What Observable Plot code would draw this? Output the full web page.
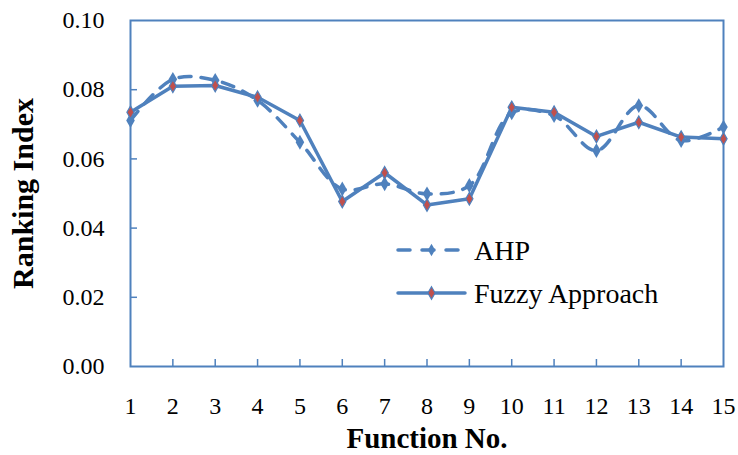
<!DOCTYPE html>
<html><head><meta charset="utf-8">
<script src="https://cdn.jsdelivr.net/npm/d3@7"></script>
<script src="https://cdn.jsdelivr.net/npm/@observablehq/plot@0.6"></script>
<style>
body{margin:0;background:#fff;}
#chart{position:relative;width:738px;height:455px;}
#chart svg{font-family:"Liberation Serif","Times New Roman",serif;}
g[aria-label="x-axis tick label"], g[aria-label="y-axis tick label"]{font-size:24px;}
g[aria-label="x-axis label"]{font-size:29px;font-weight:bold;}
g[aria-label="y-axis label"]{font-size:30px;font-weight:bold;}
</style></head><body><div id="chart"></div>
<script>
const functionNo = [1,2,3,4,5,6,7,8,9,10,11,12,13,14,15];
const ahp   = [0.0711,0.0830,0.0827,0.0769,0.0648,0.0513,0.0528,0.0499,0.0523,0.0733,0.0725,0.0624,0.0754,0.0653,0.0692];
const fuzzy = [0.0735,0.0810,0.0812,0.0778,0.0711,0.0477,0.0560,0.0467,0.0485,0.0749,0.0735,0.0665,0.0706,0.0663,0.0658];
const xTicks = [1,2,3,4,5,6,7,8,9,10,11,12,13,14,15];
const yTicks = [0,0.02,0.04,0.06,0.08,0.10];
const seriesNames = ["AHP","Fuzzy Approach"];

const blue = "#4F81BD", red = "#C0504D";
const W = 738, H = 455, mL = 130, mR = 15, mT = 20, mB = 89;
const innerW = W - mL - mR, innerH = H - mT - mB;

const ahpRows = functionNo.map((f, i) => ({f, v: ahp[i]}));
const fuzzyRows = functionNo.map((f, i) => ({f, v: fuzzy[i]}));

const plot = Plot.plot({
  width: W, height: H,
  marginLeft: mL, marginRight: mR, marginTop: mT, marginBottom: mB,
  style: {background: "#fff", color: "#000", overflow: "visible"},
  x: {domain: [1, 15]},
  y: {domain: [0, 0.1]},
  marks: [
    Plot.tickX(xTicks.slice(1, -1), {x: d => d, stroke: blue, strokeWidth: 1.5, insetTop: innerH - 7}),
    Plot.tickY(yTicks.slice(1, -1), {y: d => d, stroke: blue, strokeWidth: 1.5, insetRight: innerW - 7}),
    Plot.axisX(xTicks, {tickSize: 0, tickPadding: 30, label: "Function No.", labelAnchor: "center", labelOffset: 81, labelArrow: "none"}),
    Plot.axisY(yTicks, {tickSize: 0, tickPadding: 26, tickFormat: d3.format(".2f"), label: "Ranking Index", labelAnchor: "center", labelOffset: 119, labelArrow: "none"}),
    Plot.frame({stroke: blue, strokeWidth: 2}),
    Plot.line(ahpRows, {x: "f", y: "v", stroke: blue, strokeWidth: 3.5, strokeDasharray: "12,10", strokeLinecap: "round", curve: "catmull-rom"}),
    Plot.dot(ahpRows, {x: "f", y: "v", symbol: "diamond", r: 4.5, fill: blue}),
    Plot.line(fuzzyRows, {x: "f", y: "v", stroke: blue, strokeWidth: 3.5}),
    Plot.dot(fuzzyRows, {x: "f", y: "v", symbol: "diamond", r: 3.8, fill: red, stroke: blue, strokeWidth: 1.2})
  ]
});
document.getElementById("chart").appendChild(plot);

// legend inside the plot area
const svg = d3.select(plot);
const lg = svg.append("g")
  .attr("font-family", '"Liberation Serif","Times New Roman",serif')
  .attr("font-size", 28)
  .attr("text-anchor", "start");
const items = [
  {name: seriesNames[0], y: 250, dash: "12,12", fill: blue, stroke: "none"},
  {name: seriesNames[1], y: 293, dash: "none", fill: red, stroke: blue}
];
items.forEach(it => {
  lg.append("line").attr("x1", 398).attr("x2", 465).attr("y1", it.y).attr("y2", it.y)
    .attr("stroke", blue).attr("stroke-width", 3.5).attr("stroke-linecap", "round")
    .attr("stroke-dasharray", it.dash);
  lg.append("path").attr("d", d3.symbol(d3.symbolDiamond, 45)()).attr("transform", `translate(431.5,${it.y})`)
    .attr("fill", it.fill).attr("stroke", it.stroke).attr("stroke-width", 1.2);
  lg.append("text").attr("x", 474).attr("y", it.y).attr("dy", "0.35em")
    .attr("text-anchor", "start").attr("fill", "#000").text(it.name);
});
</script></body></html>
